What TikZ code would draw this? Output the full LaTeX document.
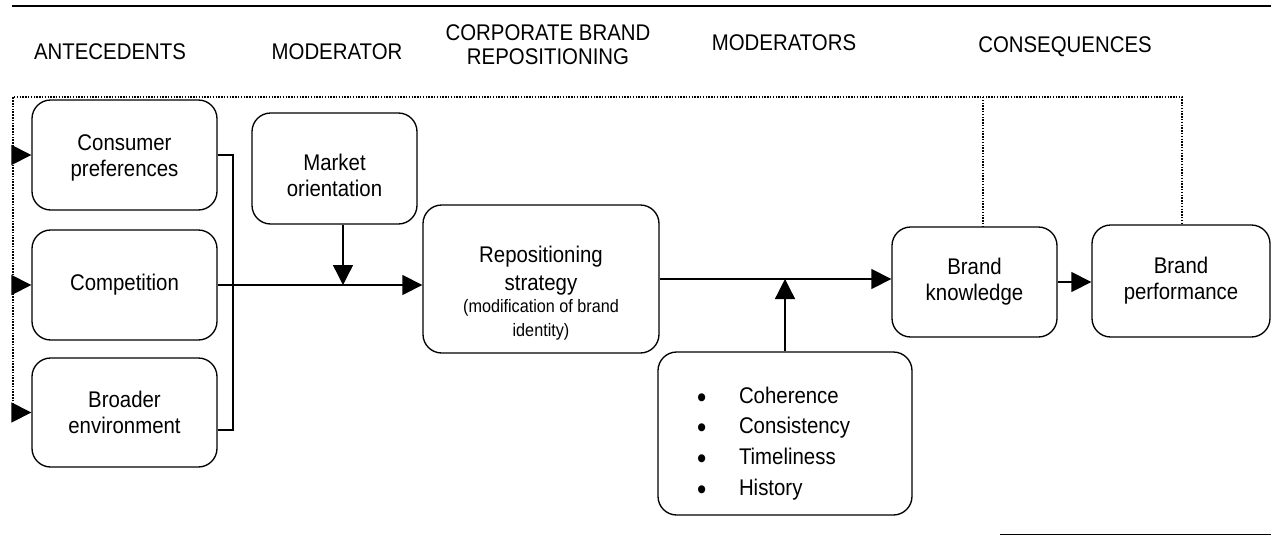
\documentclass[tikz,border=0pt]{standalone}
\usepackage{fontspec}
\setmainfont{Liberation Sans}[FakeStretch=0.9]
\usetikzlibrary{arrows.meta}

\newcommand{\itm}{\makebox[31.5pt][l]{\raisebox{-3pt}{\fontsize{22}{23}\selectfont\textbullet}}}

\tikzset{
  box/.style={draw, line width=1pt, rounded corners=14pt, align=center, inner sep=0pt, font=\fontsize{17}{19.5}\selectfont},
  head/.style={align=center, inner sep=0.75pt, font=\fontsize{17}{18}\selectfont},
  arr/.style={line width=1pt, -{Triangle[length=15pt,width=15pt]}},
  conn/.style={line width=1pt},
  frame/.style={line width=1.1pt, densely dotted},
}

\begin{document}
\begin{tikzpicture}[x=0.75pt,y=0.75pt,yscale=-1,xscale=1]
\useasboundingbox (0,0) rectangle (1271,536);

%Straight Lines [rules]
\draw [line width=1.2pt] (12,6) -- (1271,6) ;
\draw [line width=0.6pt] (1000,534) -- (1271,534) ;

% Text Node
\node [head] (hante) at (110,52) {ANTECEDENTS};
% Text Node
\node [head] (hmod) at (337,52) {MODERATOR};
% Text Node
\node [head] (hcbr) at (548,45) {CORPORATE BRAND\\REPOSITIONING};
% Text Node
\node [head] (hmods) at (784,43) {MODERATORS};
% Text Node
\node [head] (hcons) at (1065,47) {CONSEQUENCES};

%Shape: Rounded Rect [antecedents]
\node [box, minimum width=138.75pt, minimum height=82.5pt] (cp) at (124.5,155) {\rule{0pt}{16pt}Consumer\\preferences};
\node [box, minimum width=138.75pt, minimum height=82.5pt] (comp) at (124.5,285) {Competition};
\node [box, minimum width=138.75pt, minimum height=81.75pt] (broad) at (124.5,412.5) {Broader\\environment};
%Shape: Rounded Rect [moderator]
\node [box, minimum width=123.75pt, minimum height=83.25pt] (mo) at (334.5,168.5) {\rule{0pt}{22pt}Market\\orientation};
%Shape: Rounded Rect [repositioning]
\node [box, minimum width=177pt, minimum height=111pt] (rep) at (541,279) {\rule{0pt}{34pt}Repositioning\\[1.5pt]strategy\\[-3pt]{\fontsize{13.5}{17}\selectfont (modification of brand}\\[-1.5pt]{\fontsize{13.5}{17}\selectfont identity)}};
%Shape: Rounded Rect [moderators]
\node [box, minimum width=190.5pt, minimum height=122.25pt, text width=132pt, align=left, font=\fontsize{17}{23}\selectfont] (mods) at (785,433.5) {\rule{0pt}{27pt}\itm Coherence\\\itm Consistency\\\itm Timeliness\\\itm History};
%Shape: Rounded Rect [consequences]
\node [box, minimum width=123.75pt, minimum height=82.5pt] (bk) at (974.5,282) {Brand\\knowledge};
\node [box, minimum width=133.5pt, minimum height=84pt] (bp) at (1181,281) {Brand\\performance};

%Dotted frame
\coordinate (tl) at (13,97);
\coordinate (tm) at (983,97);
\coordinate (tr) at (1182,97);
\draw [frame] (tl |- broad.west) -- (tl) -- (tr) -- (tr |- bp.north) ;
\draw [frame] (tm) -- (tm |- bk.north) ;
\foreach \n in {cp,comp,broad}
  \draw [arr] (tl |- \n.west) -- (\n.west) ;

%Straight Lines [bus]
\coordinate (bust) at (233,155);
\coordinate (busb) at (233,430);
\draw [conn] (cp.east) -- (bust) -- (busb) -- (busb -| broad.east) ;
\draw [arr] (comp.east) -- (comp.east -| rep.west) ;
\coordinate (moj) at (343,285);
\draw [arr] (moj |- mo.south) -- (moj) ;

%Straight Lines [outcome]
\draw [arr] (rep.east) -- (rep.east -| bk.west) ;
\draw [arr] (mods.north) -- (mods.north |- rep.east) ;
\draw [arr] (bk.east) -- (bk.east -| bp.west) ;

\end{tikzpicture}
\end{document}
